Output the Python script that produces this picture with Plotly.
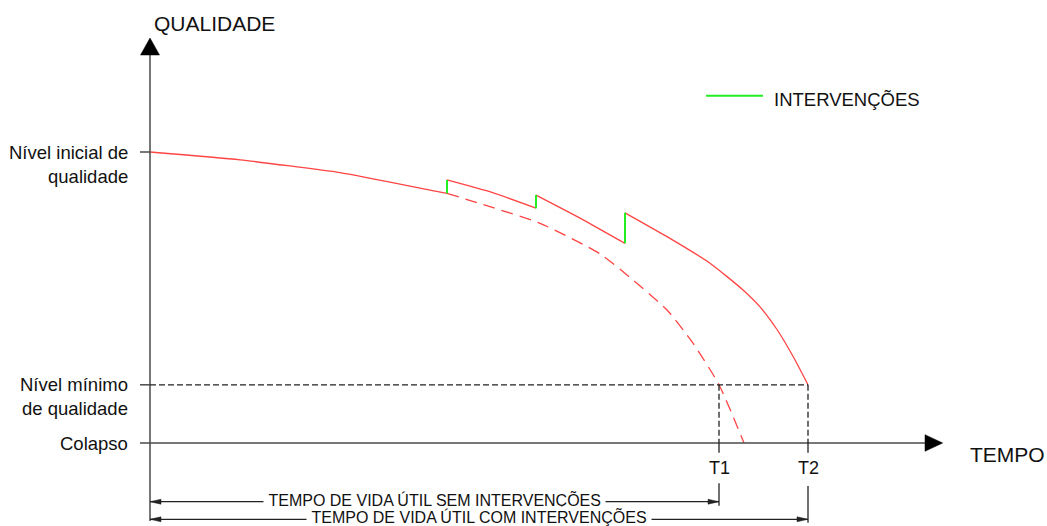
import plotly.graph_objects as go

# ---------------- data (time units, quality units: Colapso=0, mínimo=20, inicial=100) ----------
Q_INICIAL = 100
Q_MINIMO = 20
Q_COLAPSO = 0
T1 = 569
T2 = 658

# solid curve (with interventions), split in segments between interventions
SEG1_T = [0, 90, 190, 280, 297]
SEG1_Q = [100, 97.3, 92.9, 86.9, 85.8]
SEG2_T = [297, 342, 386]
SEG2_Q = [90.4, 86.1, 80.7]
SEG3_T = [386, 430, 475]
SEG3_Q = [85.2, 77.3, 68.6]
SEG4_T = [475, 517, 560, 593, 610, 627, 643, 658]
SEG4_Q = [79.1, 70.9, 61.8, 52.6, 46.8, 39.0, 29.8, 20]

# dashed curve (without interventions)
NOINT_T = [297, 340, 390, 450, 483, 517, 543, 569, 594]
NOINT_Q = [85.8, 81.2, 75.5, 65.0, 56.0, 45.7, 34.3, 20, 0]

# interventions (vertical jumps)
INT_T = [297, 386, 475]
INT_Q_FROM = [85.8, 80.7, 68.6]
INT_Q_TO = [90.4, 85.2, 79.1]

Y_TICK_LABELS = ["Nível inicial de<br>qualidade", "Nível mínimo<br>de qualidade", "Colapso"]
Y_TICK_VALUES = [Q_INICIAL, Q_MINIMO, Q_COLAPSO]
X_TICK_LABELS = ["T1", "T2"]
X_TICK_VALUES = [T1, T2]

# ---------------- layout constants ----------------
W, H = 1047, 526
PXQ = 2.91                      # pixels per quality unit
X0_PX, Y0_PX = 150, 443         # origin position in pixels
X_RANGE = [-X0_PX, W - X0_PX]
Y_RANGE = [-(H - Y0_PX) / PXQ, Y0_PX / PXQ]

def qpx(p):  # pixel offset (downwards from axis) to quality units
    return -p / PXQ

RED = "#ff4444"
GREEN = "#22ee22"
AX = "#4a4a4a"
FONT = "Arial, Liberation Sans, sans-serif"

X_AXIS_START = -10
X_AXIS_END = 775
Y_AXIS_TOP = qpx(55 - Y0_PX)
Y_AXIS_BOTTOM = qpx(521 - Y0_PX)
SEM_Q = qpx(501.7 - Y0_PX)
COM_Q = qpx(519.3 - Y0_PX)

fig = go.Figure()

# solid red segments
for ts, qs in [(SEG1_T, SEG1_Q), (SEG2_T, SEG2_Q), (SEG3_T, SEG3_Q), (SEG4_T, SEG4_Q)]:
    fig.add_trace(go.Scatter(x=ts, y=qs, mode="lines",
                             line=dict(color=RED, width=1.3, shape="spline", smoothing=0.5),
                             hoverinfo="skip", showlegend=False))
# dashed red
fig.add_trace(go.Scatter(x=NOINT_T, y=NOINT_Q, mode="lines",
                         line=dict(color=RED, width=1.3, shape="spline", smoothing=0.6, dash="12px,7px"),
                         hoverinfo="skip", showlegend=False))
# green interventions
for t, a, b in zip(INT_T, INT_Q_FROM, INT_Q_TO):
    fig.add_trace(go.Scatter(x=[t, t], y=[a, b], mode="lines",
                             line=dict(color=GREEN, width=2),
                             hoverinfo="skip", showlegend=False))

shapes = []
def line(x0, y0, x1, y1, color=AX, width=1.5, dash="solid"):
    shapes.append(dict(type="line", xref="x", yref="y", x0=x0, y0=y0, x1=x1, y1=y1,
                       line=dict(color=color, width=width, dash=dash)))

def tri(xa, ya, path, color="black"):
    shapes.append(dict(type="path", xref="x", yref="y", xsizemode="pixel", ysizemode="pixel",
                       xanchor=xa, yanchor=ya, path=path,
                       fillcolor=color, line=dict(color=color, width=0.5)))

# axes
line(X_AXIS_START, Q_COLAPSO, X_AXIS_END, Q_COLAPSO)
line(0, Y_AXIS_BOTTOM, 0, Y_AXIS_TOP)
tri(X_AXIS_END, Q_COLAPSO, "M0,-8.3 L17.7,0 L0,8.3 Z")
tri(0, Y_AXIS_TOP, "M-9.5,0 L9.5,0 L0,17 Z")
# y ticks
for v in Y_TICK_VALUES[:2]:
    line(X_AXIS_START, v, 0, v)

# min level dashed lines
DASH_BLK = "6px,3px"
line(0, Q_MINIMO, T2, Q_MINIMO, color="#222222", width=1.3, dash=DASH_BLK)
for t in X_TICK_VALUES:
    line(t, Q_MINIMO, t, Q_COLAPSO, color="#222222", width=1.3, dash=DASH_BLK)
    line(t, Q_COLAPSO, t, qpx(452.7 - Y0_PX), color="#222222", width=1.3)
line(T1, qpx(483.3 - Y0_PX), T1, qpx(505.7 - Y0_PX), color="#222222", width=1.3)
line(T2, qpx(486 - Y0_PX), T2, qpx(522.7 - Y0_PX), color="#222222", width=1.3)

# life span arrows
line(0, SEM_Q, T1, SEM_Q, color="#222222", width=1.2)
line(0, COM_Q, T2, COM_Q, color="#222222", width=1.2)
for q, tend in [(SEM_Q, T1), (COM_Q, T2)]:
    tri(0, q, "M0,0 L11,2.5 L11,-2.5 Z", "#222222")
    tri(tend, q, "M0,0 L-11,2.5 L-11,-2.5 Z", "#222222")

# legend line
line(706 - X0_PX, qpx(95.7 - Y0_PX), 763 - X0_PX, qpx(95.7 - Y0_PX), color=GREEN, width=2)

ann = []
def text(x, y, s, size, xanchor="center", yanchor="middle", align="center", bg=None):
    d = dict(x=x, y=y, xref="x", yref="y", text=s, showarrow=False,
             xanchor=xanchor, yanchor=yanchor, align=align,
             font=dict(family=FONT, size=size, color="#111111"))
    if bg:
        d.update(bgcolor=bg, borderpad=0)
    ann.append(d)

text(2, qpx(23 - Y0_PX), "QUALIDADE", 21, xanchor="left")
text(818, qpx(454.7 - Y0_PX), "TEMPO", 21, xanchor="left")
text(-20, qpx(164.5 - Y0_PX), Y_TICK_LABELS[0], 18.5, xanchor="right", align="right")
text(-20, qpx(396.5 - Y0_PX), Y_TICK_LABELS[1], 18.5, xanchor="right", align="right")
text(-20, qpx(443 - Y0_PX), Y_TICK_LABELS[2], 18.5, xanchor="right", align="right")
for lbl, t in zip(X_TICK_LABELS, X_TICK_VALUES):
    text(t, qpx(468 - Y0_PX), lbl, 18)
text(772 - X0_PX, qpx(99 - Y0_PX), "INTERVENÇÕES", 18.5, xanchor="left")
text(T1 / 2, qpx(499 - Y0_PX), "&nbsp;TEMPO DE VIDA ÚTIL SEM INTERVENÇÕES&nbsp;", 16, bg="white")
text(T2 / 2, qpx(516 - Y0_PX), "&nbsp;TEMPO DE VIDA ÚTIL COM INTERVENÇÕES&nbsp;", 16, bg="white")

fig.update_layout(
    width=W, height=H, autosize=False,
    margin=dict(l=0, r=0, t=0, b=0),
    paper_bgcolor="white", plot_bgcolor="white",
    xaxis=dict(range=X_RANGE, visible=False, fixedrange=True),
    yaxis=dict(range=Y_RANGE, visible=False, fixedrange=True),
    shapes=shapes, annotations=ann, showlegend=False,
)

fig.write_html("out.html", config={"displayModeBar": False},
               post_script="document.body.style.margin='0';")
